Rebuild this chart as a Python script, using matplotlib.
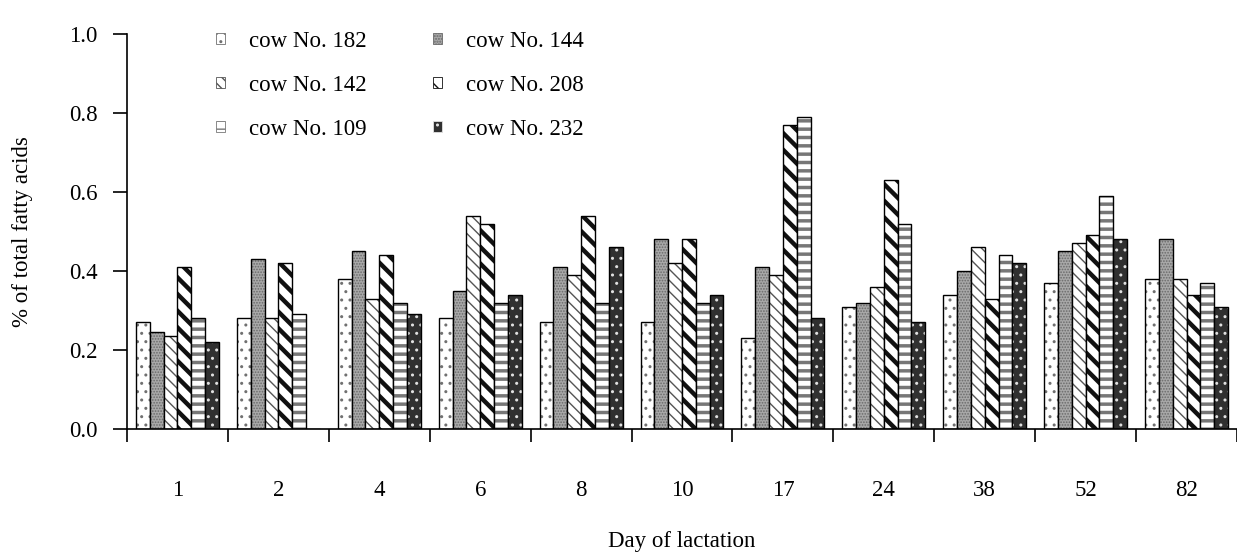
import numpy as np
import matplotlib
matplotlib.use("Agg")
import matplotlib.pyplot as plt
from matplotlib.patches import Rectangle

# data
days = ["1", "2", "4", "6", "8", "10", "17", "24", "38", "52", "82"]
cows = ["cow No. 182", "cow No. 144", "cow No. 142", "cow No. 208", "cow No. 109", "cow No. 232"]
cow182 = [0.27, 0.28, 0.38, 0.28, 0.27, 0.27, 0.23, 0.31, 0.34, 0.37, 0.38]
cow144 = [0.245, 0.43, 0.45, 0.35, 0.41, 0.48, 0.41, 0.32, 0.40, 0.45, 0.48]
cow142 = [0.235, 0.28, 0.33, 0.54, 0.39, 0.42, 0.39, 0.36, 0.46, 0.47, 0.38]
cow208 = [0.41, 0.42, 0.44, 0.52, 0.54, 0.48, 0.77, 0.63, 0.33, 0.49, 0.34]
cow109 = [0.28, 0.29, 0.32, 0.32, 0.32, 0.32, 0.79, 0.52, 0.44, 0.59, 0.37]
cow232 = [0.22, 0.0, 0.29, 0.34, 0.46, 0.34, 0.28, 0.27, 0.42, 0.48, 0.31]
series = [cow182, cow144, cow142, cow208, cow109, cow232]

# fill, hatch, hatch colour, hatch linewidth
styles = [
    ("white", "..", "#707070", 1.0),
    ("#a8a8a8", "......", "#6a6a6a", 0.8),
    ("white", "\\\\\\", "#555555", 1.0),
    ("white", "\\\\", "#111111", 3.2),
    ("white", "--", "#777777", 2.5),
    ("#303030", "..", "#e0e0e0", 1.0),
]

plt.rcParams["font.family"] = ["Liberation Serif", "DejaVu Serif"]
fs = 16.5

fig = plt.figure(figsize=(12.37, 5.54), dpi=100)
ax = fig.add_axes([0.1027, 0.2256, 0.8973, 0.713])

x = np.arange(len(days))
bw = 0.137
handles = []
for i, (vals, (fc, hatch, hc, hlw)) in enumerate(zip(series, styles)):
    pos = x - 2.5 * bw + i * bw
    with plt.rc_context({"hatch.linewidth": hlw}):
        # hatch layer, edge colour doubles as hatch colour
        hb = ax.bar(pos, vals, bw, color=fc, edgecolor=hc, hatch=hatch, linewidth=0)
        for p in hb:
            if hasattr(p, "set_hatch_linewidth"):
                p.set_hatch_linewidth(hlw)
        # outline layer
        ax.bar(pos, vals, bw, fill=False, edgecolor="black", linewidth=1.0)
        h = Rectangle((0, 0), 1, 1, facecolor=fc, edgecolor=hc, hatch=hatch, linewidth=0.6)
        if hasattr(h, "set_hatch_linewidth"):
            h.set_hatch_linewidth(hlw * 0.6)
    handles.append(h)

ax.set_xlim(-0.5, len(days) - 0.5)
ax.set_ylim(0, 1.0)
ax.set_yticks(np.arange(0, 1.01, 0.2))
ax.set_yticklabels([f"{v:.1f}" for v in np.arange(0, 1.01, 0.2)], fontsize=fs)
ax.set_xticks(x)
ax.set_xticklabels(days, fontsize=fs)
ax.set_xticks(np.arange(-0.5, len(days)), minor=True)
ax.tick_params(axis="x", which="major", length=0, pad=37)
ax.tick_params(axis="x", which="minor", length=9.5, width=1.2, direction="out")
ax.tick_params(axis="y", length=10, width=1.2, direction="out", pad=11)

for s in ["top", "right"]:
    ax.spines[s].set_visible(False)
for s in ["left", "bottom"]:
    ax.spines[s].set_linewidth(1.2)

ax.set_xlabel("Day of lactation", fontsize=fs, labelpad=21)
ax.set_ylabel("% of total fatty acids", fontsize=fs, labelpad=26)

order = [0, 2, 4, 1, 3, 5]
leg = ax.legend([handles[k] for k in order], [cows[k] for k in order], ncol=2,
                loc="upper left", bbox_to_anchor=(0.062, 1.06), frameon=False,
                fontsize=fs, handlelength=0.38, handleheight=0.38, handletextpad=1.05,
                labelspacing=1.0, columnspacing=2.9)

fig.savefig("out.png", dpi=100)
